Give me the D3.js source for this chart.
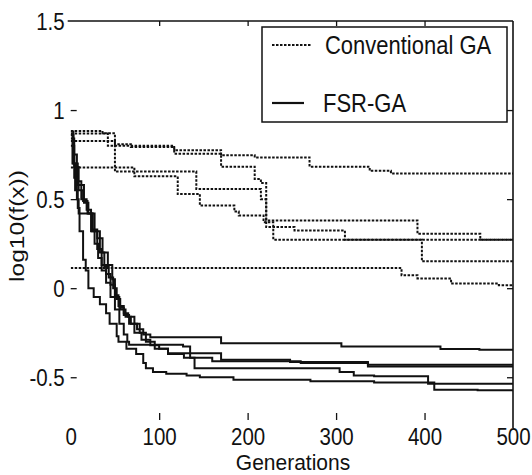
<!DOCTYPE html>
<html>
<head>
<meta charset="utf-8">
<script src="https://cdn.jsdelivr.net/npm/d3@7"></script>
<style>
  html, body { margin: 0; padding: 0; background: #fff; }
  svg { display: block; }
  text { font-family: "Liberation Sans", Arial, sans-serif; fill: #111; }
</style>
</head>
<body>
<svg id="chart" width="532" height="475"></svg>
<script>
// ---- data ----
const xTicks = [0, 100, 200, 300, 400, 500];
const xTickLabels = ["0", "100", "200", "300", "400", "500"];
const yTicks = [1.5, 1, 0.5, 0, -0.5];
const yTickLabels = ["1.5", "1", "0.5", "0", "-0.5"];
const seriesNames = ["Conventional GA", "FSR-GA"];
const xLabel = "Generations";
const yLabel = "log10(f(x))";

// Conventional GA runs: [generation, log10 f(x)]
const convRun1 = [[0,0.883],[36,0.870],[50,0.808],[68,0.793],[117,0.775],[170,0.746],[208,0.734],[270,0.682],[338,0.659],[362,0.644],[500,0.644]];
const convRun2 = [[0,0.868],[42,0.800],[117,0.755],[170,0.682],[208,0.613],[215,0.590],[221,0.380],[392,0.305],[463,0.272],[500,0.272]];
const convRun3 = [[0,0.827],[50,0.655],[142,0.557],[215,0.500],[221,0.343],[253,0.324],[310,0.272],[397,0.151],[500,0.151]];
const convRun4 = [[0,0.678],[72,0.628],[121,0.529],[146,0.464],[185,0.430],[190,0.408],[218,0.370],[229,0.272],[500,0.272]];
const convRun5 = [[0,0.113],[374,0.073],[392,0.055],[430,0.026],[484,0.017],[500,0.017]];

// FSR-GA runs
const fsrRun1 = [[0,0.86],[3,0.70],[8,0.58],[15,0.48],[20,0.42],[27,0.32],[33,0.20],[38,0.12],[43,0.06],[48,0.00],[52,-0.06],[56,-0.12],[62,-0.16],[68,-0.20],[75,-0.23],[82,-0.26],[90,-0.276],[170,-0.309],[306,-0.328],[418,-0.341],[462,-0.346],[500,-0.346]];
const fsrRun2 = [[0,0.84],[4,0.68],[9,0.55],[14,0.49],[19,0.42],[24,0.32],[30,0.22],[35,0.13],[40,0.08],[45,0.02],[50,-0.04],[54,-0.10],[60,-0.15],[66,-0.20],[72,-0.25],[80,-0.29],[90,-0.32],[100,-0.34],[110,-0.365],[170,-0.402],[248,-0.415],[336,-0.430],[500,-0.430]];
const fsrRun3 = [[0,0.88],[3,0.75],[7,0.60],[12,0.50],[18,0.44],[23,0.42],[25,0.33],[30,0.28],[36,0.20],[42,0.13],[47,0.05],[50,-0.05],[55,-0.11],[60,-0.14],[65,-0.16],[72,-0.20],[78,-0.25],[85,-0.30],[95,-0.34],[110,-0.37],[128,-0.39],[160,-0.41],[260,-0.42],[336,-0.44],[500,-0.44]];
const fsrRun4 = [[0,0.80],[4,0.62],[7,0.50],[9,0.42],[23,0.32],[27,0.25],[31,0.17],[35,0.10],[40,0.03],[45,-0.05],[50,-0.12],[55,-0.20],[60,-0.26],[64,-0.30],[66,-0.318],[127,-0.328],[135,-0.39],[140,-0.449],[304,-0.47],[320,-0.49],[343,-0.495],[404,-0.536],[500,-0.536]];
const fsrRun5 = [[0,0.86],[2,0.70],[5,0.55],[8,0.45],[10,0.32],[14,0.16],[17,0.10],[20,0.00],[26,-0.05],[33,-0.09],[40,-0.14],[44,-0.20],[52,-0.27],[54,-0.30],[63,-0.34],[74,-0.37],[82,-0.42],[85,-0.45],[93,-0.47],[108,-0.48],[131,-0.49],[146,-0.50],[184,-0.514],[271,-0.523],[343,-0.530],[411,-0.570],[460,-0.573],[500,-0.573]];

const convRuns = [convRun1, convRun2, convRun3, convRun4, convRun5];
const fsrRuns = [fsrRun1, fsrRun2, fsrRun3, fsrRun4, fsrRun5];

// ---- layout ----
const svg = d3.select("#chart");
const L = 70.7, R = 513, T = 21, B = 420;
const x = d3.scaleLinear().domain([0, 500]).range([L, R]);
const y = d3.scaleLinear().domain([-0.74, 1.5]).range([B, T]);
const SY = 1.2; // vertical stretch of glyphs in the reference

svg.append("defs").append("clipPath").attr("id", "plotclip")
  .append("rect").attr("x", L).attr("y", T).attr("width", R - L).attr("height", B - T);

// axes
function styleAxis(g) {
  g.selectAll("line").attr("stroke", "#111").attr("stroke-width", 1.3);
  g.selectAll("path.domain").attr("stroke", "#111").attr("stroke-width", 1.6);
}
const gTop = svg.append("g").attr("transform", `translate(0,${T})`)
  .call(d3.axisTop(x).tickValues([100,200,300,400]).tickSizeInner(-5).tickSizeOuter(0).tickFormat(""));
styleAxis(gTop);
gTop.select("path.domain").attr("d", `M${L-3},0H${R}`);

const gRight = svg.append("g").attr("transform", `translate(${R},0)`)
  .call(d3.axisRight(y).tickValues([1, 0.5, 0, -0.5]).tickSizeInner(-6).tickSizeOuter(0).tickFormat(""));
styleAxis(gRight);
gRight.select("path.domain").attr("d", `M0,${T}V${B + 8}`);

const gLeft = svg.append("g").attr("transform", `translate(${L},0)`)
  .call(d3.axisLeft(y).tickValues(yTicks).tickSizeInner(-6).tickSizeOuter(0)
    .tickFormat((d, i) => yTickLabels[i]));
styleAxis(gLeft);
gLeft.select("path.domain").remove();
gLeft.selectAll(".tick").filter(d => d === 1.5).select("line").remove();
gLeft.selectAll("text")
  .attr("x", null).attr("dy", null).attr("y", null)
  .attr("text-anchor", "end")
  .attr("font-size", 20.5)
  .attr("transform", `translate(-6,8.6) scale(1,${SY})`);

const gBottom = svg.append("g").attr("transform", `translate(0,${B})`)
  .call(d3.axisBottom(x).tickValues(xTicks).tickSizeInner(-7).tickSizeOuter(0)
    .tickFormat((d, i) => xTickLabels[i]));
styleAxis(gBottom);
gBottom.select("path.domain").remove();
gBottom.selectAll(".tick").filter(d => d === 0 || d === 500).select("line").remove();
gBottom.selectAll("text")
  .attr("y", null).attr("dy", null)
  .attr("text-anchor", "middle")
  .attr("font-size", 20.5)
  .attr("transform", `translate(0,25) scale(1,${SY})`);

// axis titles
svg.append("text")
  .attr("transform", `translate(293,470) scale(1,1.05)`)
  .attr("text-anchor", "middle").attr("font-size", 21).text(xLabel);
svg.append("text")
  .attr("transform", `translate(24,226) scale(1,1.26) rotate(-90)`)
  .attr("text-anchor", "middle").attr("font-size", 19.5).text(yLabel);

// curves
const line = d3.line().x(d => x(d[0])).y(d => y(d[1])).curve(d3.curveStepAfter);
const plot = svg.append("g").attr("clip-path", "url(#plotclip)");
plot.selectAll("path.conv").data(convRuns).join("path").attr("class", "conv")
  .attr("d", line).attr("fill", "none").attr("stroke", "#111")
  .attr("stroke-width", 2).attr("stroke-dasharray", "2.5,1.5");
plot.selectAll("path.fsr").data(fsrRuns).join("path").attr("class", "fsr")
  .attr("d", line).attr("fill", "none").attr("stroke", "#111")
  .attr("stroke-width", 2);

// legend
const lg = svg.append("g");
lg.append("rect").attr("x", 262).attr("y", 27).attr("width", 245).attr("height", 95)
  .attr("fill", "#fff").attr("stroke", "#111").attr("stroke-width", 1.5);
lg.append("line").attr("x1", 272).attr("x2", 312).attr("y1", 45).attr("y2", 45)
  .attr("stroke", "#111").attr("stroke-width", 2).attr("stroke-dasharray", "2.5,1.5");
lg.append("line").attr("x1", 272).attr("x2", 304).attr("y1", 103).attr("y2", 103)
  .attr("stroke", "#111").attr("stroke-width", 2.2);
lg.append("text").attr("transform", `translate(325,54) scale(1,1.15)`)
  .attr("font-size", 22).text(seriesNames[0]);
lg.append("text").attr("transform", `translate(323,112) scale(1,1.15)`)
  .attr("font-size", 22).text(seriesNames[1]);
</script>
</body>
</html>
